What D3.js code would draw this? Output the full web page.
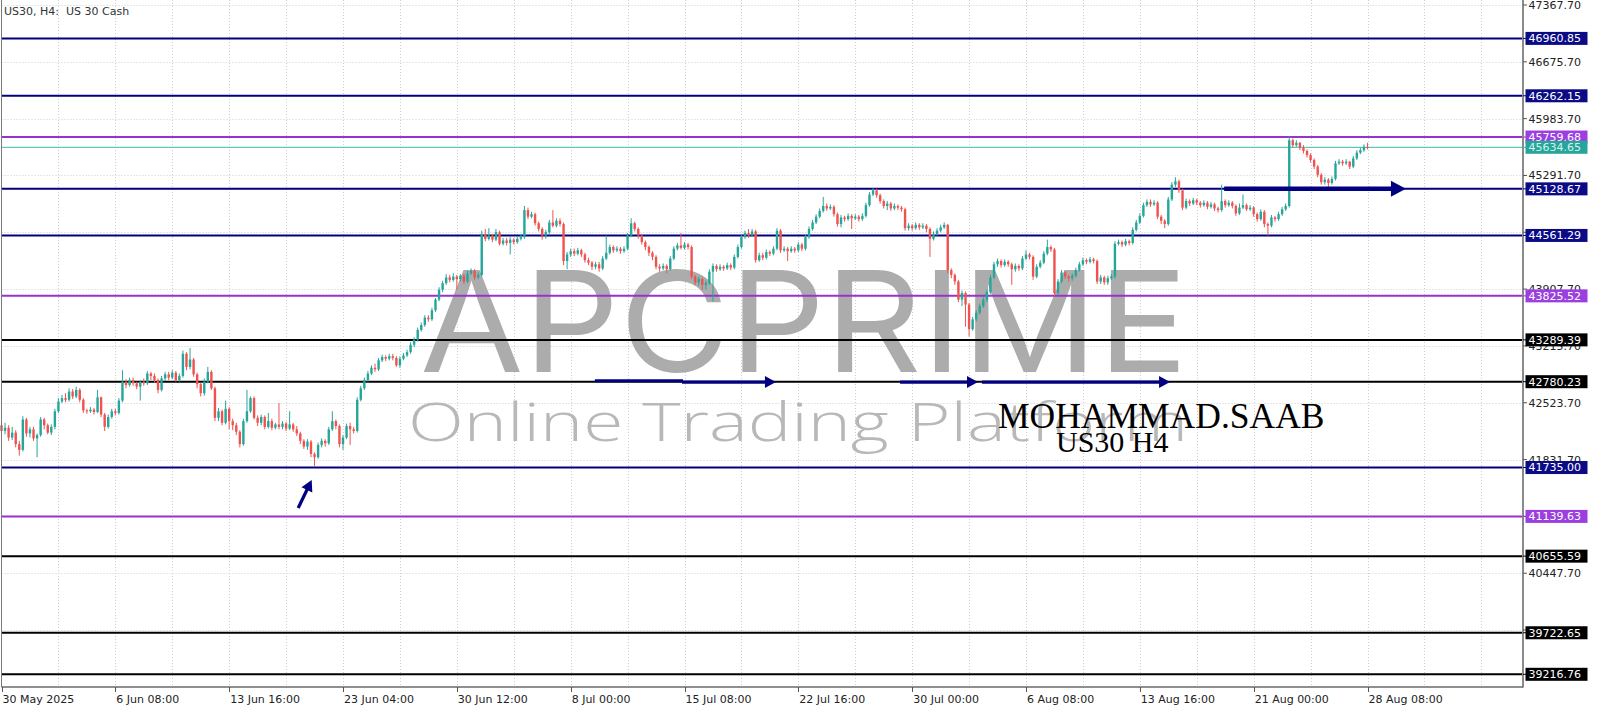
<!DOCTYPE html>
<html><head><meta charset="utf-8">
<script src="https://cdn.jsdelivr.net/npm/d3@7"></script>
<style>html,body{margin:0;padding:0;background:#fff;}svg{display:block}</style>
</head><body><svg id="c" width="1600" height="711"></svg>
<script>
// ---------------- DATA ----------------
const opens=[
42250,42180,42220,42100,42160,42020,41950,42320,42150,42200,
42090,42130,42320,42250,42160,42230,42420,42540,42580,42560,
42660,42600,42680,42560,42430,42420,42440,42410,42590,42380,
42230,42350,42420,42400,42550,42780,42740,42800,42760,42720,
42780,42760,42880,42850,42800,42680,42820,42870,42830,42890,
42800,42850,43120,42960,43050,42870,42750,42640,42780,42900,
42700,42340,42420,42280,42450,42300,42250,42170,42020,42300,
42420,42580,42340,42280,42350,42230,42300,42220,42260,42230,
42270,42210,42260,42200,42150,42060,41990,42050,41900,41860,
42010,42060,42030,42200,42300,42240,42020,42100,42240,42200,
42180,42560,42700,42800,42880,42950,42930,43040,43080,43060,
43090,43070,42980,43060,43100,43140,43230,43290,43410,43470,
43560,43540,43650,43780,43900,43980,44050,44020,44060,44030,
44070,44000,44100,44130,44050,44080,44580,44520,44560,44510,
44600,44460,44500,44470,44510,44480,44520,44540,44870,44790,
44820,44710,44640,44560,44600,44720,44680,44740,44700,44250,
44330,44370,44340,44380,44330,44260,44230,44180,44210,44160,
44280,44350,44420,44380,44400,44370,44400,44560,44710,44640,
44560,44480,44420,44350,44300,44180,44160,44190,44150,44280,
44400,44440,44410,44450,44420,44060,43990,44030,43960,43980,
44120,44190,44150,44180,44160,44200,44170,44300,44420,44540,
44590,44560,44610,44260,44320,44290,44360,44340,44400,44620,
44380,44400,44370,44400,44380,44450,44400,44540,44640,44720,
44790,44860,44920,44890,44910,44820,44700,44780,44760,44800,
44770,44790,44760,44800,44930,45060,45110,45050,44980,44920,
44950,44890,44920,44900,44880,44650,44680,44650,44690,44660,
44680,44640,44520,44580,44620,44660,44690,44140,44080,44000,
43780,43860,43720,43420,43540,43620,43700,43780,43870,44050,
44210,44250,44200,44240,44210,44150,44190,44160,44280,44330,
44300,44060,44180,44230,44340,44420,44390,43860,44000,44110,
44060,44040,44070,44140,44210,44260,44240,44270,44250,44000,
44050,43990,44040,44060,44460,44480,44450,44490,44470,44630,
44720,44800,44930,44970,44940,44960,44790,44740,44700,45000,
45180,45220,45110,44900,44980,44950,44990,44960,44930,44960,
44910,44940,44890,44870,44980,44930,44960,44920,44830,44900,
44930,44880,44900,44820,44760,44850,44700,44680,44780,44760,
44820,44880,44920,45720,45660,45690,45630,45590,45540,45480,
45400,45300,45210,45240,45200,45250,45440,45460,45440,45460,
45400,45500,45570,45600,45640];
const highs=[
42300,42280,42250,42230,42190,42060,42360,42340,42230,42230,
42150,42350,42340,42270,42260,42450,42580,42620,42640,42700,
42690,42720,42700,42580,42450,42470,42460,42680,42600,42400,
42380,42450,42450,42580,42920,42810,42830,42830,42780,42800,
42820,42910,42900,42880,42820,42850,42900,42900,42920,42910,
42880,43160,43140,43190,43070,42890,42770,42820,42960,42920,
42720,42460,42440,42550,42470,42330,42280,42190,42330,42680,
42600,42600,42370,42380,42370,42400,42330,42280,42520,42300,
42290,42420,42280,42240,42170,42080,42080,42070,41920,42040,
42090,42080,42230,42420,42320,42260,42130,42270,42280,42230,
42590,42730,42830,42910,42980,43000,43070,43110,43100,43120,
43120,43090,43090,43130,43170,43260,43320,43440,43500,43590,
43590,43680,43800,43930,44010,44090,44080,44100,44080,44090,
44090,44130,44160,44150,44110,44620,44640,44650,44580,44640,
44620,44530,44530,44540,44530,44550,44580,44920,44900,44850,
44840,44730,44660,44630,44750,44870,44770,44770,44720,44360,
44400,44400,44410,44400,44350,44290,44250,44240,44240,44310,
44560,44450,44440,44430,44420,44430,44590,44770,44730,44660,
44580,44500,44440,44370,44320,44210,44220,44210,44310,44430,
44470,44590,44480,44470,44440,44080,44060,44050,44010,44150,
44220,44210,44210,44200,44230,44220,44330,44450,44570,44620,
44640,44640,44630,44350,44350,44390,44380,44430,44650,44640,
44430,44420,44430,44420,44480,44470,44570,44670,44750,44820,
44890,45030,44950,44940,44930,44840,44810,44800,44830,44820,
44820,44810,44830,44960,45090,45140,45130,45070,45000,44980,
44970,44950,44940,44920,44900,44710,44700,44720,44710,44710,
44700,44660,44610,44650,44690,44720,44700,44160,44100,44020,
43890,43880,43740,43570,43650,43730,43810,43900,44080,44240,
44280,44270,44270,44260,44230,44220,44210,44310,44380,44350,
44320,44210,44260,44370,44510,44440,44410,44030,44140,44130,
44080,44100,44170,44240,44290,44280,44300,44290,44270,44080,
44070,44070,44090,44490,44510,44500,44520,44510,44660,44750,
44830,44960,45000,45000,44990,44980,44810,44760,45030,45210,
45270,45240,45130,45010,45000,45020,45010,44980,44990,44980,
44970,44960,44910,45180,45000,44990,44980,44940,44950,45060,
44950,44930,44920,44840,44880,44870,44720,44810,44800,44850,
44910,44950,45770,45740,45720,45700,45660,45610,45560,45500,
45420,45320,45270,45260,45280,45470,45490,45480,45490,45470,
45530,45600,45630,45670,45690];
const lows=[
42120,42140,42060,42070,41980,41880,41930,42110,42100,42060,
41860,42110,42200,42140,42130,42200,42400,42520,42530,42540,
42570,42580,42530,42400,42390,42400,42380,42400,42350,42180,
42210,42330,42370,42380,42530,42700,42720,42730,42690,42550,
42730,42740,42800,42770,42640,42660,42790,42800,42810,42780,
42780,42830,42920,42930,42840,42700,42600,42610,42760,42680,
42300,42300,42250,42260,42200,42190,42130,41980,42000,42280,
42400,42320,42240,42250,42200,42210,42190,42200,42200,42200,
42180,42190,42170,42120,42020,41960,41950,41860,41750,41840,
41980,41990,42010,42180,42200,41980,41950,42080,42010,42150,
42160,42540,42680,42780,42860,42900,42910,43020,43030,43040,
43040,42960,42950,43040,43080,43120,43200,43270,43390,43450,
43510,43520,43630,43760,43870,43960,43990,44000,43900,44000,
43970,43980,44080,44020,44030,44060,44490,44500,44480,44490,
44440,44440,44440,44330,44450,44460,44500,44520,44760,44770,
44680,44610,44510,44520,44580,44660,44660,44670,44200,44150,
44300,44310,44320,44300,44230,44200,44140,44150,44120,44140,
44260,44330,44350,44360,44340,44350,44380,44540,44610,44520,
44450,44380,44310,44260,44150,44120,44140,44100,44130,44260,
44380,44390,44390,44390,44030,43960,43950,43900,43900,43960,
43760,44120,44130,44130,44140,44140,44150,44280,44400,44520,
44530,44540,44230,44240,44260,44270,44310,44320,44380,44350,
44360,44250,44350,44350,44360,44370,44380,44520,44620,44700,
44770,44840,44860,44870,44790,44670,44660,44730,44740,44640,
44750,44730,44740,44780,44910,45040,45020,44950,44890,44870,
44860,44870,44870,44850,44620,44620,44620,44630,44630,44640,
44600,44300,44500,44560,44600,44640,44100,44040,43960,43750,
43700,43450,43330,43400,43510,43600,43680,43750,43850,44030,
44180,44170,44180,44180,43960,44120,44130,44140,44260,44270,
44020,44040,44160,44210,44320,44360,43820,43840,43980,44030,
44000,44010,44050,44120,44190,44210,44220,44220,43970,43970,
43960,43960,44020,44040,44440,44420,44430,44440,44450,44610,
44700,44780,44910,44910,44920,44760,44700,44650,44680,44980,
45150,45080,44870,44880,44920,44930,44930,44900,44910,44880,
44890,44860,44840,44850,44900,44910,44890,44800,44810,44880,
44860,44860,44790,44730,44740,44660,44560,44660,44730,44740,
44800,44860,44900,45630,45640,45600,45560,45510,45450,45370,
45270,45180,45180,45150,45180,45230,45420,45410,45420,45370,
45380,45480,45550,45580,45610];
const closes=[
42180,42220,42100,42160,42020,41950,42320,42150,42200,42090,
42130,42320,42250,42160,42230,42420,42540,42580,42560,42660,
42600,42680,42560,42430,42420,42440,42410,42590,42380,42230,
42350,42420,42400,42550,42780,42740,42800,42760,42720,42780,
42760,42880,42850,42800,42680,42820,42870,42830,42890,42800,
42850,43120,42960,43050,42870,42750,42640,42780,42900,42700,
42340,42420,42280,42450,42300,42250,42170,42020,42300,42420,
42580,42340,42280,42350,42230,42300,42220,42260,42230,42270,
42210,42260,42200,42150,42060,41990,42050,41900,41860,42010,
42060,42030,42200,42300,42240,42020,42100,42240,42200,42180,
42560,42700,42800,42880,42950,42930,43040,43080,43060,43090,
43070,42980,43060,43100,43140,43230,43290,43410,43470,43560,
43540,43650,43780,43900,43980,44050,44020,44060,44030,44070,
44000,44100,44130,44050,44080,44580,44520,44560,44510,44600,
44460,44500,44470,44510,44480,44520,44540,44870,44790,44820,
44710,44640,44560,44600,44720,44680,44740,44700,44250,44330,
44370,44340,44380,44330,44260,44230,44180,44210,44160,44280,
44350,44420,44380,44400,44370,44400,44560,44710,44640,44560,
44480,44420,44350,44300,44180,44160,44190,44150,44280,44400,
44440,44410,44450,44420,44060,43990,44030,43960,43980,44120,
44190,44150,44180,44160,44200,44170,44300,44420,44540,44590,
44560,44610,44260,44320,44290,44360,44340,44400,44620,44380,
44400,44370,44400,44380,44450,44400,44540,44640,44720,44790,
44860,44920,44890,44910,44820,44700,44780,44760,44800,44770,
44790,44760,44800,44930,45060,45110,45050,44980,44920,44950,
44890,44920,44900,44880,44650,44680,44650,44690,44660,44680,
44640,44520,44580,44620,44660,44690,44140,44080,44000,43780,
43860,43720,43420,43540,43620,43700,43780,43870,44050,44210,
44250,44200,44240,44210,44150,44190,44160,44280,44330,44300,
44060,44180,44230,44340,44420,44390,43860,44000,44110,44060,
44040,44070,44140,44210,44260,44240,44270,44250,44000,44050,
43990,44040,44060,44460,44480,44450,44490,44470,44630,44720,
44800,44930,44970,44940,44960,44790,44740,44700,45000,45180,
45220,45110,44900,44980,44950,44990,44960,44930,44960,44910,
44940,44890,44870,44980,44930,44960,44920,44830,44900,44930,
44880,44900,44820,44760,44850,44700,44680,44780,44760,44820,
44880,44920,45720,45660,45690,45630,45590,45540,45480,45400,
45300,45210,45240,45200,45250,45440,45460,45440,45460,45400,
45500,45570,45600,45640,45635];

const yTickValues=[47367.70,46675.70,45983.70,45291.70,44599.70,43907.70,43215.70,42523.70,41831.70,41139.70,40447.70,39755.70];
const timeLabels=["30 May 2025","6 Jun 08:00","13 Jun 16:00","23 Jun 04:00","30 Jun 12:00","8 Jul 00:00","15 Jul 08:00","22 Jul 16:00","30 Jul 00:00","6 Aug 08:00","13 Aug 16:00","21 Aug 00:00","28 Aug 08:00"];
const barsPerLabel=32;

const levelPrices=[46960.85,46262.15,45759.68,45634.65,45128.67,44561.29,43825.52,43289.39,42780.23,41735.00,41139.63,40655.59,39722.65,39216.76];
const levelKinds =["navy","navy","purple","bid","navy","navy","purple","black","black","navy","purple","black","black","black"];

// arrows: [fromBar, fromPrice, toBar, toPrice, head]
const arrows=[
 [83.4,41242,87.2,41583,"small"],
 [166.8,42792,191.3,42792,"none"],
 [191.3,42775,217.7,42775,"small"],
 [252.6,42775,274.5,42775,"small"],
 [275.6,42775,328.5,42775,"small"],
 [343.7,45128.67,394.8,45128.67,"big"]
];

// ---------------- DRAW ----------------
const svg=d3.select("#c");
const W=1600,H=711;
const plotL=1.5, plotR=1523, plotB=687;
const x=d3.scaleLinear().domain([0,384]).range([1.5,1367.5]);
const y=d3.scaleLinear().domain([39216.76,47367.70]).range([674.3,5]);

const kindStyle={
  navy:{stroke:"#000080",w:2,box:"#0b0b86",txt:"#fff"},
  purple:{stroke:"#9932cc",w:2,box:"#9b3fe0",txt:"#fff"},
  bid:{stroke:"#3bb8a8",w:1,box:"#26a69a",txt:"#d8f0ec"},
  black:{stroke:"#000",w:2,box:"#000",txt:"#fff"}
};

svg.append("rect").attr("width",W).attr("height",H).attr("fill","#fff");

// grid
const gGrid=svg.append("g");
const vBars=d3.range(16,420,16).filter(b=>x(b)<plotR-2);
gGrid.selectAll("line.v").data(vBars).join("line")
 .attr("x1",d=>Math.round(x(d))+0.5).attr("x2",d=>Math.round(x(d))+0.5)
 .attr("y1",0).attr("y2",plotB).attr("stroke","#cfcfcf").attr("stroke-width",1).attr("stroke-dasharray","1,2");
gGrid.selectAll("line.h").data(yTickValues).join("line")
 .attr("x1",plotL).attr("x2",plotR).attr("y1",d=>Math.round(y(d))+0.5).attr("y2",d=>Math.round(y(d))+0.5)
 .attr("stroke","#cfcfcf").attr("stroke-width",1).attr("stroke-dasharray","1,2");

// watermark
svg.append("text").text("APCPRIME").attr("x",420).attr("y",372)
 .attr("font-family","Inter, 'Open Sans', sans-serif").attr("font-weight",400).attr("font-size",140)
 .attr("textLength",768).attr("lengthAdjust","spacingAndGlyphs").attr("fill","#acacac");
svg.append("text").text("Online Trading Platform").attr("x",408).attr("y",441)
 .attr("font-family","'Open Sans', Lato, sans-serif").attr("font-weight",300).attr("font-size",53)
 .attr("textLength",780).attr("lengthAdjust","spacingAndGlyphs").attr("fill","#b8b8b8");

// level lines
const levels=levelPrices.map((p,i)=>({p,k:levelKinds[i]}));
svg.append("g").selectAll("line").data(levels).join("line")
 .attr("x1",plotL).attr("x2",plotR).attr("y1",d=>y(d.p)).attr("y2",d=>y(d.p))
 .attr("stroke",d=>kindStyle[d.k].stroke).attr("stroke-width",d=>kindStyle[d.k].w);

// candles
const bars=closes.map((c,i)=>({i,o:opens[i],h:highs[i],l:lows[i],c}));
const bull="#26a69a", bear="#ef5350";
const gC=svg.append("g");
gC.selectAll("line").data(bars).join("line")
 .attr("x1",d=>x(d.i)).attr("x2",d=>x(d.i)).attr("y1",d=>y(d.h)).attr("y2",d=>y(d.l))
 .attr("stroke",d=>d.c>=d.o?bull:bear).attr("stroke-width",1);
gC.selectAll("rect").data(bars).join("rect")
 .attr("x",d=>x(d.i)-1.2).attr("width",2.4)
 .attr("y",d=>y(Math.max(d.o,d.c))).attr("height",d=>Math.max(1,Math.abs(y(d.o)-y(d.c))))
 .attr("fill",d=>d.c>=d.o?bull:bear);

// arrows
const gA=svg.append("g");
arrows.forEach(a=>{
  const x1=x(a[0]),y1=y(a[1]),x2=x(a[2]),y2=y(a[3]);
  const big=a[4]==="big";
  const hl=a[4]==="none"?0:(big?15:11), hw=big?8:6;
  const dx=x2-x1,dy=y2-y1,len=Math.hypot(dx,dy),ux=dx/len,uy=dy/len;
  const bx=x2-ux*hl,by=y2-uy*hl;
  gA.append("line").attr("x1",x1).attr("y1",y1).attr("x2",bx+ux*1).attr("y2",by+uy*1)
    .attr("stroke","#000080").attr("stroke-width",big?4.5:3.2);
  if(hl>0){
    gA.append("path").attr("d",`M${x2},${y2}L${bx-uy*hw},${by+ux*hw}L${bx+uy*hw},${by-ux*hw}Z`).attr("fill","#000080");
  }
});

// signature
svg.append("text").text("MOHAMMAD.SAAB").attr("x",998).attr("y",428)
 .attr("font-family","'Liberation Serif', 'Times New Roman', serif").attr("font-size",35.5).attr("fill","#000");
svg.append("text").text("US30 H4").attr("x",1056).attr("y",452)
 .attr("font-family","'Liberation Serif', 'Times New Roman', serif").attr("font-size",30).attr("fill","#000");

// axes frame
svg.append("line").attr("x1",plotL).attr("x2",plotL).attr("y1",0).attr("y2",plotB).attr("stroke","#7a7a7a").attr("stroke-width",1);
svg.append("line").attr("x1",plotR).attr("x2",plotR).attr("y1",0).attr("y2",plotB+0.5).attr("stroke","#8a8a8a").attr("stroke-width",2);
svg.append("line").attr("x1",plotL).attr("x2",plotR).attr("y1",plotB).attr("y2",plotB).attr("stroke","#6a6a6a").attr("stroke-width",1.5);

const axFont="'DejaVu Sans', Verdana, sans-serif";
// y ticks (a tick label fully covered by a level price box is not drawn, as in the source)
const visibleTicks=yTickValues.filter(v=>!levelPrices.some(p=>Math.abs(y(p)-y(v))<4.5));
const gY=svg.append("g");
gY.selectAll("line").data(yTickValues).join("line")
 .attr("x1",plotR).attr("x2",plotR+4).attr("y1",d=>y(d)).attr("y2",d=>y(d)).attr("stroke","#555");
gY.selectAll("text").data(visibleTicks).join("text")
 .attr("x",1528.5).attr("y",d=>y(d)).attr("dy","0.36em").text(d=>d.toFixed(2))
 .attr("font-family",axFont).attr("font-size",11).attr("fill","#222");

// level price boxes
const gB=svg.append("g");
const lb=gB.selectAll("g").data(levels).join("g").attr("transform",d=>`translate(0,${y(d.p)})`);
lb.append("line").attr("x1",plotR).attr("x2",plotR+4).attr("stroke",d=>kindStyle[d.k].stroke);
lb.append("rect").attr("x",1525.5).attr("y",-6.5).attr("width",62).attr("height",13).attr("fill",d=>kindStyle[d.k].box);
lb.append("text").attr("x",1528.5).attr("dy","0.36em").text(d=>d.p.toFixed(2))
 .attr("font-family",axFont).attr("font-size",11).attr("fill",d=>kindStyle[d.k].txt);

// x ticks
const gX=svg.append("g");
const xt=timeLabels.map((t,i)=>({t,b:i*barsPerLabel}));
gX.selectAll("line").data(xt).join("line")
 .attr("x1",d=>Math.round(x(d.b))+0.5).attr("x2",d=>Math.round(x(d.b))+0.5).attr("y1",plotB).attr("y2",plotB+5).attr("stroke","#555");
gX.selectAll("text").data(xt).join("text")
 .attr("x",d=>x(d.b)+1).attr("y",703).text(d=>d.t)
 .attr("font-family",axFont).attr("font-size",11).attr("fill","#222");

// title
svg.append("text").attr("x",4).attr("y",15).attr("xml:space","preserve").style("white-space","pre")
 .text("US30, H4:  US 30 Cash").attr("font-family",axFont).attr("font-size",11).attr("fill","#333");
</script></body></html>
